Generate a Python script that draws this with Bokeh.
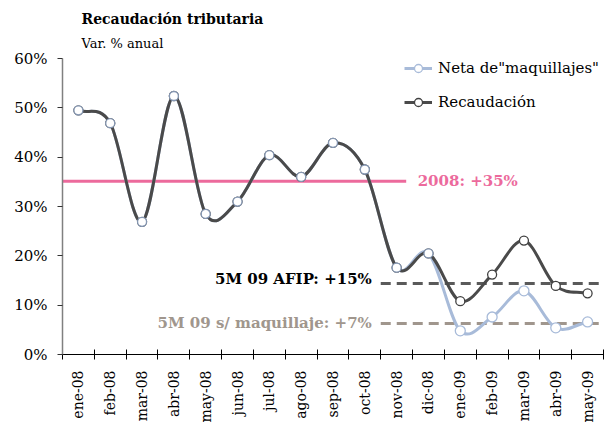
import numpy as np
from bokeh.plotting import figure
from bokeh.models import (Range1d, FixedTicker, Label, Legend, LegendItem, Title,
                          ColumnDataSource, PrintfTickFormatter)
from bokeh.embed import file_html
from bokeh.resources import INLINE

# ---------------- data ----------------
months = ["ene-08", "feb-08", "mar-08", "abr-08", "may-08", "jun-08", "jul-08",
          "ago-08", "sep-08", "oct-08", "nov-08", "dic-08", "ene-09", "feb-09",
          "mar-09", "abr-09", "may-09"]
recaudacion = [49.5, 46.9, 26.9, 52.4, 28.5, 31.0, 40.4, 36.0, 42.9, 37.5,
               17.6, 20.5, 10.8, 16.2, 23.1, 13.9, 12.4]
neta = [49.5, 46.9, 26.9, 52.4, 28.5, 31.0, 40.4, 36.0, 42.9, 37.5,
        17.6, 20.5, 4.8, 7.6, 12.9, 5.4, 6.6]
avg_2008 = 35.1
afip_5m09 = 14.4
sin_maq_5m09 = 6.3
y_ticks = [0, 10, 20, 30, 40, 50, 60]

FONT = "DejaVu Serif"
DARK = "#4a4a4a"
BLUE = "#a8bbd9"
PINK = "#ec6a9c"
BEIGE = "#a0968d"

n = len(months)
xc = np.arange(n) + 0.5  # category centres
i_nov = months.index("nov-08")


def smooth_source(xs, ys):
    """Bezier control points for a smoothed (Catmull-Rom style) line."""
    xs = np.asarray(xs, float)
    ys = np.asarray(ys, float)
    tx = np.empty(len(xs)); ty = np.empty(len(xs))
    tx[1:-1] = (xs[2:] - xs[:-2]) / 2
    ty[1:-1] = (ys[2:] - ys[:-2]) / 2
    tx[0] = xs[1] - xs[0]; ty[0] = ys[1] - ys[0]
    tx[-1] = xs[-1] - xs[-2]; ty[-1] = ys[-1] - ys[-2]
    return ColumnDataSource(dict(
        x0=xs[:-1], y0=ys[:-1], x1=xs[1:], y1=ys[1:],
        cx0=xs[:-1] + tx[:-1] / 3, cy0=ys[:-1] + ty[:-1] / 3,
        cx1=xs[1:] - tx[1:] / 3, cy1=ys[1:] - ty[1:] / 3))


p = figure(frame_width=541, frame_height=296, x_range=Range1d(0, n),
           y_range=Range1d(0, 60), title=None,
           output_backend="svg", toolbar_location=None,
           min_border_left=62, min_border_right=3, min_border_top=58,
           min_border_bottom=50, background_fill_color="white",
           border_fill_color="white")
p.outline_line_color = None
p.xgrid.visible = False
p.ygrid.visible = False

# titles (first added sits next to the frame)
p.add_layout(Title(text="Var. % anual", align="left", offset=19, standoff=15,
                   text_font=FONT, text_font_size="13px", text_font_style="normal",
                   text_color="black"), "above")
p.add_layout(Title(text="Recaudación tributaria", align="left", offset=19, standoff=0,
                   text_font=FONT, text_font_size="14px", text_font_style="bold",
                   text_color="black"), "above")

# x axis: labels at centres, tick marks at category boundaries
p.xaxis.ticker = FixedTicker(ticks=list(xc), minor_ticks=list(range(n + 1)))
p.xaxis.major_label_overrides = {float(v): m for v, m in zip(xc, months)}
p.xaxis.major_tick_in = 0
p.xaxis.major_tick_out = 0
p.xaxis.minor_tick_in = 5
p.xaxis.minor_tick_out = 5
p.xaxis.minor_tick_line_color = "black"
p.xaxis.axis_line_color = "black"
p.xaxis.major_label_orientation = np.pi / 2
p.xaxis.major_label_standoff = 11
p.xaxis.major_label_text_font = FONT
p.xaxis.major_label_text_font_size = "14px"
p.xaxis.major_label_text_color = "black"

# y axis
p.yaxis.ticker = FixedTicker(ticks=y_ticks, minor_ticks=[])
p.yaxis.formatter = PrintfTickFormatter(format="%d%%")
p.yaxis.axis_line_color = "#808080"
p.yaxis.axis_line_width = 1.5
p.yaxis.major_tick_in = 0
p.yaxis.major_tick_out = 5
p.yaxis.major_tick_line_color = "#333333"
p.yaxis.major_label_standoff = 10
p.yaxis.major_label_text_font = FONT
p.yaxis.major_label_text_font_size = "15px"
p.yaxis.major_label_text_color = "black"

# reference lines
p.segment(x0=[0], y0=[avg_2008], x1=[i_nov + 0.8], y1=[avg_2008],
          line_color=PINK, line_width=3)
p.segment(x0=[i_nov], y0=[afip_5m09], x1=[n], y1=[afip_5m09],
          line_color="#5a5a5a", line_width=3, line_dash="10 6")
p.segment(x0=[i_nov], y0=[sin_maq_5m09], x1=[n], y1=[sin_maq_5m09],
          line_color=BEIGE, line_width=3, line_dash="10 6")

# series
p.bezier(x0="x0", y0="y0", x1="x1", y1="y1", cx0="cx0", cy0="cy0", cx1="cx1", cy1="cy1",
         source=smooth_source(xc, neta), line_color=BLUE, line_width=3)
p.bezier(x0="x0", y0="y0", x1="x1", y1="y1", cx0="cx0", cy0="cy0", cx1="cx1", cy1="cy1",
         source=smooth_source(xc, recaudacion), line_color=DARK, line_width=3)
rec_pts = p.scatter(xc, recaudacion, size=9, fill_color="white", line_color="#404040",
                    line_width=1.3)
neta_pts = p.scatter(xc[:12], neta[:12], size=9, fill_color="white", line_color="#8597b3",
                     line_width=1.3)
neta_pts2 = p.scatter(xc[12:], neta[12:], size=10, fill_color="white", line_color=BLUE,
                      line_width=1.3)

# legend line glyphs: single-point lines draw nothing in the plot
leg_neta_line = p.line([xc[0]], [neta[0]], line_color=BLUE, line_width=3)
leg_rec_line = p.line([xc[0]], [recaudacion[0]], line_color=DARK, line_width=3)
legend = Legend(items=[
    LegendItem(label='Neta de"maquillajes"', renderers=[leg_neta_line, neta_pts2]),
    LegendItem(label="Recaudación", renderers=[leg_rec_line, rec_pts]),
], location=(342, 242), orientation="vertical", spacing=14, padding=0, margin=0,
    glyph_width=28, glyph_height=20, label_height=20, label_standoff=6,
    label_text_font=FONT, label_text_font_size="15px", label_text_color="black",
    border_line_color=None, background_fill_alpha=0)
p.add_layout(legend, "center")

# annotation texts
p.add_layout(Label(x=i_nov + 1.16, y=avg_2008, text="2008: +35%",
                   text_font=FONT, text_font_style="bold", text_font_size="15px",
                   text_color=PINK, text_baseline="middle", text_align="left"))
p.add_layout(Label(x=i_nov - 0.28, y=afip_5m09 + 1.0,
                   text="5M 09 AFIP: +15%",
                   text_font=FONT, text_font_style="bold", text_font_size="15px",
                   text_color="black", text_baseline="middle", text_align="right"))
p.add_layout(Label(x=i_nov - 0.28, y=sin_maq_5m09,
                   text="5M 09 s/ maquillaje: +7%",
                   text_font=FONT, text_font_style="bold", text_font_size="15px",
                   text_color=BEIGE, text_baseline="middle", text_align="right"))

open("out.html", "w").write(file_html(p, INLINE))
